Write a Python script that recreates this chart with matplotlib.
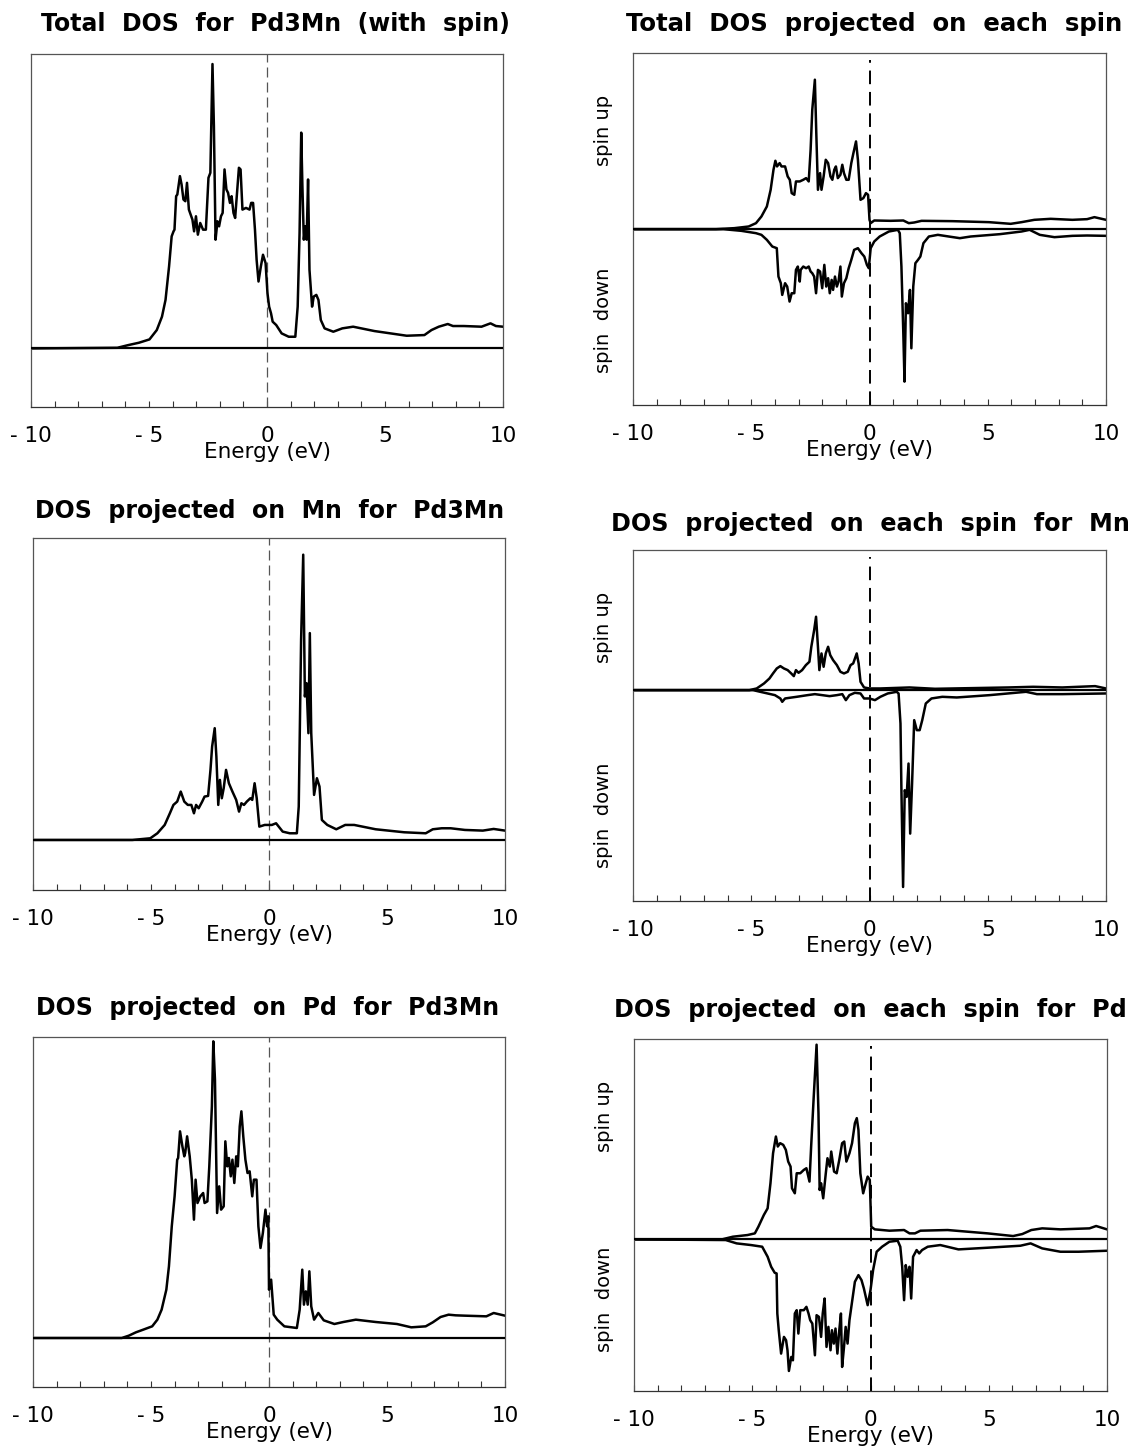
import numpy as np
import matplotlib
matplotlib.use('Agg')
import matplotlib.pyplot as plt
from matplotlib.ticker import MultipleLocator

tot_dos = np.array([
    [-10, 0], [-6.34, 0.02], [-5.88, 0.1], [-5.43, 0.17], [-4.98, 0.27], [-4.67, 0.55], [-4.45, 0.95],
    [-4.30, 1.45], [-4.15, 2.45], [-4.04, 3.35], [-3.96, 3.5], [-3.92, 3.55], [-3.85, 4.55], [-3.80, 4.6],
    [-3.69, 5.15], [-3.62, 4.9], [-3.54, 4.45], [-3.46, 4.4], [-3.39, 4.95], [-3.31, 4.15], [-3.16, 3.85],
    [-3.09, 3.5], [-3.01, 3.95], [-2.93, 3.4], [-2.83, 3.75], [-2.71, 3.55], [-2.59, 3.55], [-2.48, 5.1],
    [-2.40, 5.25], [-2.31, 8.5], [-2.25, 6.65], [-2.18, 3.25], [-2.10, 3.8], [-2.03, 3.65], [-1.95, 3.95],
    [-1.88, 4.05], [-1.80, 5.35], [-1.72, 4.75], [-1.65, 4.65], [-1.57, 4.35], [-1.50, 4.55], [-1.42, 4.05],
    [-1.35, 3.9], [-1.27, 4.65], [-1.19, 5.4], [-1.12, 5.35], [-1.04, 4.15], [-0.89, 4.2], [-0.74, 4.15],
    [-0.67, 4.35], [-0.59, 4.35], [-0.51, 3.55], [-0.44, 2.65], [-0.36, 2.0], [-0.26, 2.45], [-0.17, 2.8],
    [-0.06, 2.55], [0.02, 1.65], [0.09, 1.25], [0.17, 1.05], [0.24, 0.8], [0.39, 0.7], [0.62, 0.45],
    [0.92, 0.35], [1.20, 0.35], [1.30, 1.25], [1.38, 3.45], [1.45, 6.45], [1.50, 4.85], [1.56, 3.25],
    [1.62, 3.65], [1.68, 3.25], [1.74, 5.05], [1.80, 2.35], [1.91, 1.25], [1.98, 1.55], [2.09, 1.6],
    [2.18, 1.45], [2.28, 0.85], [2.44, 0.6], [2.81, 0.5], [3.19, 0.6], [3.65, 0.65], [4.55, 0.52],
    [5.92, 0.38], [6.67, 0.4], [6.97, 0.55], [7.28, 0.65], [7.66, 0.73], [7.88, 0.67], [8.34, 0.67],
    [9.09, 0.65], [9.47, 0.75], [9.70, 0.67], [10, 0.65]])

mn_dos = np.array([
    [-10, 0], [-5.79, 0], [-5.03, 0.05], [-4.73, 0.2], [-4.42, 0.45], [-4.20, 0.8], [-4.05, 1.05],
    [-3.89, 1.15], [-3.74, 1.45], [-3.59, 1.15], [-3.44, 1.05], [-3.29, 1.05], [-3.18, 0.8], [-3.09, 1.05],
    [-2.98, 0.95], [-2.83, 1.15], [-2.73, 1.3], [-2.58, 1.32], [-2.48, 2.1], [-2.41, 2.8], [-2.30, 3.35],
    [-2.23, 2.5], [-2.15, 1.05], [-2.08, 1.8], [-2.0, 1.25], [-1.92, 1.55], [-1.82, 2.1], [-1.70, 1.7],
    [-1.55, 1.45], [-1.39, 1.2], [-1.27, 0.85], [-1.17, 1.1], [-1.06, 1.05], [-0.94, 1.15], [-0.79, 1.25],
    [-0.71, 1.2], [-0.61, 1.7], [-0.52, 1.25], [-0.41, 0.4], [-0.18, 0.45], [0.12, 0.45], [0.30, 0.5],
    [0.58, 0.25], [0.88, 0.2], [1.18, 0.2], [1.26, 1.0], [1.36, 6.0], [1.45, 8.55], [1.52, 4.3],
    [1.59, 4.7], [1.67, 3.2], [1.73, 6.2], [1.79, 3.2], [1.91, 1.35], [2.03, 1.85], [2.14, 1.6],
    [2.24, 0.6], [2.47, 0.45], [2.85, 0.32], [3.23, 0.45], [3.61, 0.45], [4.52, 0.32], [5.73, 0.23],
    [6.64, 0.2], [6.94, 0.32], [7.32, 0.35], [7.70, 0.35], [8.30, 0.3], [9.06, 0.28], [9.52, 0.33],
    [10, 0.28]])

pd_dos = np.array([
    [-10, 0], [-6.24, 0], [-5.94, 0.07], [-5.64, 0.17], [-5.33, 0.25], [-4.95, 0.35], [-4.73, 0.55],
    [-4.55, 0.85], [-4.35, 1.45], [-4.24, 2.15], [-4.12, 3.35], [-4.0, 4.25], [-3.89, 5.35], [-3.85, 5.4],
    [-3.77, 6.2], [-3.67, 5.75], [-3.59, 5.45], [-3.55, 5.55], [-3.47, 6.05], [-3.36, 5.45], [-3.27, 4.75],
    [-3.18, 3.55], [-3.11, 4.75], [-3.03, 4.05], [-2.91, 4.25], [-2.79, 4.35], [-2.73, 4.05], [-2.61, 4.1],
    [-2.53, 5.15], [-2.42, 6.95], [-2.36, 8.9], [-2.29, 7.75], [-2.20, 3.75], [-2.11, 4.55], [-2.03, 3.85],
    [-1.92, 3.95], [-1.85, 5.9], [-1.77, 5.15], [-1.70, 5.4], [-1.62, 4.85], [-1.55, 5.35], [-1.47, 4.65],
    [-1.39, 5.45], [-1.32, 5.15], [-1.24, 6.35], [-1.17, 6.8], [-1.09, 6.05], [-1.0, 5.35], [-0.91, 4.95],
    [-0.82, 5.0], [-0.71, 4.25], [-0.64, 4.75], [-0.53, 4.75], [-0.45, 3.35], [-0.36, 2.7], [-0.26, 3.15],
    [-0.15, 3.85], [-0.08, 3.35], [-0.03, 3.65], [0.0, 1.45], [0.09, 1.75], [0.20, 0.7], [0.35, 0.55],
    [0.65, 0.35], [1.18, 0.3], [1.30, 0.85], [1.41, 2.05], [1.48, 1.0], [1.56, 1.4], [1.64, 1.0],
    [1.71, 2.0], [1.79, 0.95], [1.91, 0.55], [2.09, 0.75], [2.32, 0.53], [2.77, 0.42], [3.15, 0.48],
    [3.68, 0.55], [4.52, 0.48], [5.42, 0.42], [6.03, 0.32], [6.64, 0.35], [6.94, 0.47], [7.27, 0.63],
    [7.61, 0.7], [7.91, 0.68], [8.30, 0.67], [9.21, 0.65], [9.52, 0.75], [10, 0.67]])

tot_up = np.array([
    [-10, 0], [-6.49, 0], [-5.72, 0.03], [-5.11, 0.08], [-4.80, 0.18], [-4.57, 0.38], [-4.34, 0.68],
    [-4.18, 1.18], [-4.06, 1.78], [-3.98, 2.05], [-3.91, 1.88], [-3.80, 1.98], [-3.72, 1.88], [-3.57, 1.88],
    [-3.46, 1.58], [-3.37, 1.48], [-3.29, 1.08], [-3.18, 1.03], [-3.11, 1.43], [-2.95, 1.43], [-2.80, 1.48],
    [-2.68, 1.53], [-2.57, 1.43], [-2.49, 2.38], [-2.42, 3.58], [-2.31, 4.48], [-2.25, 2.88], [-2.18, 1.18],
    [-2.09, 1.68], [-2.03, 1.18], [-1.94, 1.58], [-1.85, 2.08], [-1.75, 1.98], [-1.65, 1.58], [-1.57, 1.48],
    [-1.49, 1.78], [-1.42, 1.88], [-1.34, 1.53], [-1.23, 1.63], [-1.15, 1.93], [-1.08, 1.68], [-0.98, 1.48],
    [-0.88, 1.48], [-0.77, 1.98], [-0.68, 2.28], [-0.57, 2.63], [-0.49, 2.08], [-0.38, 0.88], [-0.26, 0.93],
    [-0.15, 1.08], [-0.06, 1.03], [0.0, 0.28], [0.05, 0.18], [0.20, 0.26], [0.89, 0.25], [1.43, 0.26],
    [1.66, 0.18], [1.89, 0.2], [2.2, 0.25], [3.51, 0.24], [5.05, 0.21], [5.97, 0.16], [6.43, 0.21],
    [6.97, 0.28], [7.66, 0.31], [8.58, 0.28], [9.2, 0.3], [9.51, 0.36], [10, 0.28]])

tot_down = np.array([
    [-10, 0], [-6.18, 0], [-5.42, -0.05], [-4.80, -0.12], [-4.57, -0.17], [-4.34, -0.32], [-4.11, -0.52],
    [-3.92, -0.57], [-3.85, -1.42], [-3.75, -1.62], [-3.69, -1.97], [-3.57, -1.62], [-3.48, -1.72],
    [-3.38, -2.17], [-3.29, -1.92], [-3.18, -1.92], [-3.11, -1.22], [-3.03, -1.12], [-2.95, -1.57],
    [-2.91, -1.22], [-2.80, -1.12], [-2.68, -1.17], [-2.57, -1.12], [-2.49, -1.27], [-2.42, -1.32],
    [-2.34, -1.42], [-2.26, -1.92], [-2.18, -1.22], [-2.09, -1.27], [-2.0, -1.77], [-1.91, -1.07],
    [-1.83, -1.72], [-1.75, -1.47], [-1.68, -1.92], [-1.6, -1.52], [-1.54, -1.82], [-1.46, -1.42],
    [-1.38, -1.72], [-1.31, -1.57], [-1.23, -1.12], [-1.17, -2.02], [-1.08, -1.62], [-0.98, -1.47],
    [-0.88, -1.17], [-0.77, -0.92], [-0.65, -0.62], [-0.49, -0.57], [-0.34, -0.72], [-0.22, -0.82],
    [-0.11, -1.07], [-0.03, -1.17], [0.05, -0.57], [0.20, -0.37], [0.43, -0.22], [0.82, -0.07],
    [1.2, -0.02], [1.28, -0.12], [1.35, -1.12], [1.43, -3.12], [1.48, -4.57], [1.54, -2.22], [1.63, -2.52],
    [1.71, -1.82], [1.77, -3.57], [1.85, -1.72], [1.94, -1.02], [2.05, -0.92], [2.15, -0.82], [2.28, -0.42],
    [2.51, -0.22], [2.89, -0.17], [3.35, -0.22], [3.82, -0.27], [4.28, -0.22], [5.51, -0.15], [6.43, -0.07],
    [6.77, -0.02], [7.2, -0.17], [7.82, -0.24], [8.58, -0.2], [9.2, -0.19], [10, -0.2]])

mn_up = np.array([
    [-10, 0], [-5.08, 0], [-4.77, 0.05], [-4.46, 0.2], [-4.23, 0.35], [-4.08, 0.5], [-3.92, 0.65],
    [-3.77, 0.72], [-3.62, 0.65], [-3.46, 0.6], [-3.31, 0.5], [-3.2, 0.42], [-3.11, 0.6], [-3.0, 0.52],
    [-2.85, 0.6], [-2.69, 0.75], [-2.54, 0.85], [-2.46, 1.3], [-2.34, 1.8], [-2.26, 2.2], [-2.18, 1.3],
    [-2.12, 0.6], [-2.03, 1.1], [-1.94, 0.7], [-1.85, 1.1], [-1.75, 1.3], [-1.66, 1.05], [-1.54, 0.9],
    [-1.38, 0.75], [-1.23, 0.55], [-1.08, 0.5], [-0.92, 0.55], [-0.80, 0.75], [-0.69, 0.8], [-0.54, 1.1],
    [-0.46, 0.8], [-0.38, 0.25], [-0.23, 0.08], [0.0, 0.05], [0.46, 0.05], [1.69, 0.08], [2.77, 0.04],
    [4.31, 0.06], [5.85, 0.08], [6.92, 0.1], [8.15, 0.08], [9.54, 0.12], [10, 0.05]])

mn_down = np.array([
    [-10, 0], [-4.92, 0], [-4.62, -0.05], [-4.31, -0.1], [-4.0, -0.15], [-3.77, -0.25], [-3.69, -0.35],
    [-3.57, -0.25], [-3.38, -0.23], [-3.08, -0.2], [-2.62, -0.15], [-2.31, -0.12], [-2.0, -0.15],
    [-1.69, -0.18], [-1.38, -0.15], [-1.15, -0.12], [-1.0, -0.3], [-0.85, -0.15], [-0.62, -0.08],
    [-0.38, -0.1], [-0.23, -0.25], [0.0, -0.25], [0.23, -0.3], [0.46, -0.2], [0.77, -0.1], [1.15, -0.05],
    [1.23, -0.1], [1.31, -1.0], [1.35, -3.0], [1.42, -5.9], [1.49, -3.0], [1.57, -3.2], [1.65, -2.2],
    [1.72, -4.3], [1.80, -2.8], [1.89, -0.9], [2.0, -1.2], [2.12, -1.2], [2.23, -0.9], [2.38, -0.4],
    [2.62, -0.25], [3.08, -0.2], [3.69, -0.22], [5.08, -0.15], [6.62, -0.05], [7.08, -0.12], [8.15, -0.12],
    [10, -0.1]])

pd_up = np.array([
    [-10, 0], [-6.28, 0], [-5.82, 0.08], [-5.2, 0.13], [-4.89, 0.18], [-4.74, 0.38], [-4.51, 0.73],
    [-4.35, 0.93], [-4.23, 1.68], [-4.12, 2.58], [-4.0, 3.08], [-3.92, 2.78], [-3.82, 2.88], [-3.69, 2.83],
    [-3.58, 2.68], [-3.48, 2.33], [-3.38, 2.18], [-3.32, 1.53], [-3.2, 1.38], [-3.12, 1.98], [-2.97, 1.98],
    [-2.82, 2.08], [-2.71, 2.13], [-2.58, 1.73], [-2.51, 2.78], [-2.40, 4.28], [-2.28, 5.83], [-2.2, 3.78],
    [-2.15, 1.48], [-2.09, 1.68], [-2.0, 1.23], [-1.89, 1.98], [-1.82, 2.43], [-1.72, 2.18], [-1.66, 2.63],
    [-1.54, 2.03], [-1.43, 1.98], [-1.32, 2.38], [-1.2, 2.88], [-1.11, 2.93], [-1.02, 2.33], [-0.89, 2.58],
    [-0.78, 2.88], [-0.66, 3.48], [-0.58, 3.63], [-0.51, 3.28], [-0.43, 1.98], [-0.31, 1.38], [-0.2, 1.68],
    [-0.12, 1.88], [-0.03, 1.78], [0.03, 0.38], [0.18, 0.3], [0.8, 0.26], [1.42, 0.28], [1.65, 0.18],
    [1.88, 0.18], [2.11, 0.26], [3.26, 0.28], [4.95, 0.18], [6.03, 0.1], [6.42, 0.16], [6.8, 0.28],
    [7.26, 0.33], [8.03, 0.3], [9.26, 0.33], [9.54, 0.4], [10, 0.3]])

pd_down = np.array([
    [-10, 0], [-6.12, -0.02], [-5.66, -0.12], [-5.05, -0.17], [-4.58, -0.22], [-4.35, -0.52], [-4.2, -0.82],
    [-4.05, -1.0], [-3.97, -1.02], [-3.94, -2.22], [-3.88, -2.72], [-3.78, -3.42], [-3.66, -2.92],
    [-3.57, -3.02], [-3.51, -3.32], [-3.45, -3.94], [-3.35, -3.52], [-3.28, -3.62], [-3.2, -2.22],
    [-3.12, -2.12], [-3.05, -2.82], [-2.97, -2.12], [-2.82, -2.12], [-2.71, -2.02], [-2.62, -2.22],
    [-2.55, -2.42], [-2.46, -2.52], [-2.35, -3.47], [-2.28, -2.27], [-2.18, -2.32], [-2.09, -2.92],
    [-2.02, -2.22], [-1.94, -1.77], [-1.86, -3.22], [-1.78, -2.62], [-1.69, -3.32], [-1.63, -2.72],
    [-1.55, -3.12], [-1.48, -2.67], [-1.40, -3.42], [-1.32, -2.72], [-1.25, -2.22], [-1.2, -3.82],
    [-1.12, -3.22], [-1.05, -2.62], [-0.97, -3.12], [-0.89, -2.42], [-0.77, -1.82], [-0.66, -1.27],
    [-0.51, -1.07], [-0.38, -1.22], [-0.28, -1.47], [-0.2, -1.72], [-0.12, -1.97], [0.0, -1.52],
    [0.11, -0.92], [0.26, -0.37], [0.49, -0.22], [0.8, -0.07], [1.15, -0.04], [1.26, -0.22], [1.34, -0.82],
    [1.42, -1.82], [1.49, -0.77], [1.57, -1.12], [1.65, -0.82], [1.72, -1.77], [1.8, -0.52], [1.95, -0.32],
    [2.06, -0.42], [2.18, -0.32], [2.42, -0.22], [2.95, -0.17], [3.72, -0.3], [4.95, -0.25], [6.34, -0.19],
    [6.77, -0.12], [7.26, -0.27], [8.03, -0.37], [8.8, -0.37], [10, -0.34]])

titles = ['Total  DOS  for  Pd3Mn  (with  spin)',
          'Total  DOS  projected  on  each  spin',
          'DOS  projected  on  Mn  for  Pd3Mn',
          'DOS  projected  on  each  spin  for  Mn',
          'DOS  projected  on  Pd  for  Pd3Mn',
          'DOS  projected  on  each  spin  for  Pd']
tick_pos = [-10, -5, 0, 5, 10]
tick_labels = ['- 10', '- 5', '0', '5', '10']

W, H = 1139, 1450
fig = plt.figure(figsize=(W / 100, H / 100), dpi=100)


def px_axes(x0, y0, x1, y1):
    # rectangle des axes en pixels de l'image de reference
    return fig.add_axes([x0 / W, 1 - y1 / H, (x1 - x0) / W, (y1 - y0) / H])


def panel(ax, ylim, right=False):
    ax.set_xlim(-10, 10)
    ax.set_ylim(*ylim)
    ax.set_yticks([])
    ax.set_xticks(tick_pos, tick_labels)
    ax.xaxis.set_minor_locator(MultipleLocator(1))
    ax.tick_params(axis='x', which='both', direction='in', length=4, width=0.8,
                   pad=14, labelsize=15.5, colors='#333333', labelcolor='black')
    for s in ax.spines.values():
        s.set_linewidth(0.9)
        s.set_color('#555555')
    ax.spines['bottom'].set_color('#333333')
    ax.axhline(0, color='black', lw=1.6, zorder=3)
    if right:
        ax.axvline(0, color='black', lw=1.4, dashes=(7, 4), ymax=0.98)
    else:
        ax.axvline(0, color='#555555', lw=0.9, dashes=(8, 4))
    ax.annotate('Energy (eV)', xy=(0.5, 0), xycoords='axes fraction', xytext=(0, -25),
                textcoords='offset points', ha='center', va='top', fontsize=15.5)


def spin_labels(ax, up_y, down_y):
    ax.annotate('spin up', xy=(0, up_y), xycoords='axes fraction', xytext=(-21, 0),
                textcoords='offset points', rotation=90, ha='center', va='center', fontsize=14)
    ax.annotate('spin  down', xy=(0, down_y), xycoords='axes fraction', xytext=(-21, 0),
                textcoords='offset points', rotation=90, ha='center', va='center', fontsize=14)


lw = 1.8

# colonne de gauche
ax1 = px_axes(31, 54, 503, 407)
panel(ax1, (-1.75, 8.8))
ax1.plot(tot_dos[:, 0], tot_dos[:, 1], color='black', lw=lw)

ax3 = px_axes(33, 538, 505, 890)
panel(ax3, (-1.5, 9.05))
ax3.plot(mn_dos[:, 0], mn_dos[:, 1], color='black', lw=lw)

ax5 = px_axes(33, 1037, 505, 1387)
panel(ax5, (-1.47, 9.03))
ax5.plot(pd_dos[:, 0], pd_dos[:, 1], color='black', lw=lw)

# colonne de droite (spin up / spin down)
ax2 = px_axes(633, 53, 1106, 405)
panel(ax2, (-5.27, 5.28), right=True)
ax2.plot(tot_up[:, 0], tot_up[:, 1], color='black', lw=lw)
ax2.plot(tot_down[:, 0], tot_down[:, 1], color='black', lw=lw)
spin_labels(ax2, 0.78, 0.24)

ax4 = px_axes(633, 550, 1106, 901)
panel(ax4, (-6.32, 4.2), right=True)
ax4.plot(mn_up[:, 0], mn_up[:, 1], color='black', lw=lw)
ax4.plot(mn_down[:, 0], mn_down[:, 1], color='black', lw=lw)
spin_labels(ax4, 0.78, 0.245)

ax6 = px_axes(634, 1039, 1107, 1391)
panel(ax6, (-4.54, 6.0), right=True)
ax6.plot(pd_up[:, 0], pd_up[:, 1], color='black', lw=lw)
ax6.plot(pd_down[:, 0], pd_down[:, 1], color='black', lw=lw)
spin_labels(ax6, 0.78, 0.26)

# titres
title_xy = [(275, 24), (874, 24), (270, 511), (870, 524), (268, 1008), (870, 1010)]
title_size = [17, 17.6, 17, 17.2, 17, 17.2]
for t, (x, y), fs in zip(titles, title_xy, title_size):
    fig.text(x / W, 1 - y / H, t, ha='center', va='center', fontsize=fs, fontweight='bold')

fig.savefig('out.png', dpi=100)
